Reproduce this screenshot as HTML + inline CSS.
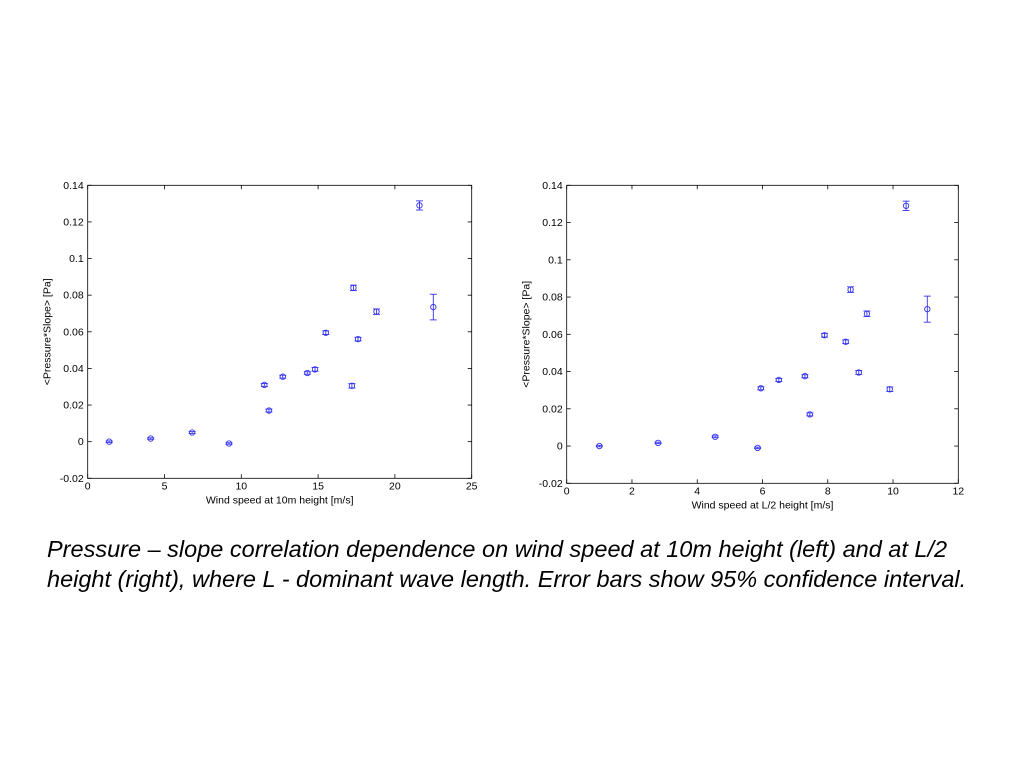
<!DOCTYPE html>
<html><head><meta charset="utf-8"><style>
body{margin:0;width:1024px;height:768px;background:#fff;overflow:hidden;font-family:"Liberation Sans",sans-serif}
svg{position:absolute;left:0;top:0}
#cap{position:absolute;left:47px;top:534px;width:950px;font-style:italic;font-size:23.5px;line-height:30px;color:#000}
</style></head><body>
<svg id="chart" width="1024" height="768"></svg>
<div id="cap">Pressure – slope correlation dependence on wind speed at 10m height (left) and at L/2 height (right), where L - dominant wave length. Error bars show 95% confidence interval.</div>
<script>
const yTicks=[-0.02,0,0.02,0.04,0.06,0.08,0.1,0.12,0.14];
const yTickLabels=["-0.02","0","0.02","0.04","0.06","0.08","0.1","0.12","0.14"];
const leftX=[1.4,4.1,6.8,9.2,11.5,11.8,12.7,14.3,14.8,15.5,17.2,17.3,17.6,18.8,21.6,22.5];
const leftY=[0,0.0017,0.005,-0.001,0.031,0.017,0.0355,0.0375,0.0395,0.0595,0.0305,0.084,0.056,0.071,0.129,0.0735];
const leftErr=[0.0004,0.0004,0.0005,0.0004,0.0008,0.0008,0.0008,0.0007,0.001,0.001,0.0012,0.0015,0.001,0.0015,0.0025,0.007];
const leftXTicks=[0,5,10,15,20,25];
const rightX=[1.0,2.8,4.55,5.85,5.95,6.5,7.3,7.45,7.9,8.55,8.7,8.95,9.2,9.9,10.4,11.05];
const rightY=[0,0.0017,0.005,-0.001,0.031,0.0355,0.0375,0.017,0.0595,0.056,0.084,0.0395,0.071,0.0305,0.129,0.0735];
const rightErr=[0.0004,0.0004,0.0005,0.0004,0.0008,0.0008,0.0008,0.0008,0.001,0.001,0.0015,0.001,0.0015,0.0012,0.0025,0.007];
const rightXTicks=[0,2,4,6,8,10,12];
const svg=document.getElementById('chart');
const NS='http://www.w3.org/2000/svg';
function mk(tag,attrs,parent){const e=document.createElementNS(NS,tag);for(const k in attrs)e.setAttribute(k,attrs[k]);(parent||svg).appendChild(e);return e;}
function plot(name,L,R,T,B,xmax,xticks,xs,ys,es,xlabel){
  const g=mk('g',{});
  
  
  const sx=v=>L+(R-L)*v/xmax, sy=v=>B-(B-T)*(v+0.02)/0.16;
  const fr=mk('rect',{x:L,y:T,width:R-L,height:B-T,fill:'none',stroke:'#000','stroke-width':0.8},g);
  
  
  yTicks.forEach((v,i)=>{const y=sy(v);
    mk('line',{x1:L,x2:L+4,y1:y,y2:y,stroke:'#000','stroke-width':0.8},g);
    mk('line',{x1:R,x2:R-4,y1:y,y2:y,stroke:'#000','stroke-width':0.8},g);
    const t=mk('text',{x:L-4,y:y+3.5,'text-anchor':'end','font-size':10.5},g);t.textContent=yTickLabels[i];
    
    });
  xticks.forEach(v=>{const x=sx(v);
    mk('line',{x1:x,x2:x,y1:B,y2:B-4,stroke:'#000','stroke-width':0.8},g);
    mk('line',{x1:x,x2:x,y1:T,y2:T+4,stroke:'#000','stroke-width':0.8},g);
    const t=mk('text',{x:x,y:B+11,'text-anchor':'middle','font-size':10.5},g);t.textContent=String(v);
    
    });
  const xl=mk('text',{x:(L+R)/2,y:B+25,'text-anchor':'middle','font-size':10.5},g);xl.textContent=xlabel;
  
  
  const yl=mk('text',{x:0,y:0,'text-anchor':'middle','font-size':10.5,transform:`translate(${L-37},${(T+B)/2}) rotate(-90)`},g);yl.textContent='<Pressure*Slope> [Pa]';
  
  
  xs.forEach((xv,i)=>{const x=sx(xv),y=sy(ys[i]),y1=sy(ys[i]+es[i]),y2=sy(ys[i]-es[i]);
    const p=mk('g',{stroke:'#3333ee','stroke-width':0.9,fill:'none'},g);
    
    
    mk('line',{x1:x,x2:x,y1:y1,y2:y2},p);
    mk('line',{x1:x-3.5,x2:x+3.5,y1:y1,y2:y1},p);
    mk('line',{x1:x-3.5,x2:x+3.5,y1:y2,y2:y2},p);
    mk('circle',{cx:x,cy:y,r:2.7},p);});
}
plot('left-chart',87.7,471.7,185.3,478.3,25,leftXTicks,leftX,leftY,leftErr,'Wind speed at 10m height [m/s]');
plot('right-chart',566.7,958.3,185.3,483.3,12,rightXTicks,rightX,rightY,rightErr,'Wind speed at L/2 height [m/s]');
</script>
</body></html>
